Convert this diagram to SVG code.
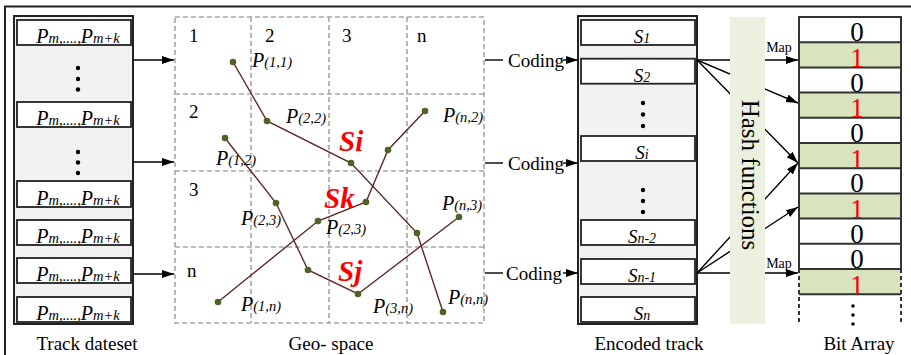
<svg xmlns="http://www.w3.org/2000/svg" width="911" height="355" viewBox="0 0 911 355">
<defs>
<marker id="arr" markerUnits="userSpaceOnUse" markerWidth="13" markerHeight="9" refX="12" refY="4" orient="auto">
<path d="M0,0 L12,4 L0,8 z" fill="#000"/>
</marker>
<style>
text{font-family:"Liberation Serif","Times New Roman",serif;fill:#000}
.cap{font-size:19px}
.it{font-style:italic}
.big{font-size:20px}
.sm{font-size:14.5px}
.box{fill:#f2f2f2;stroke:#222;stroke-width:2}
.row{fill:#fff;stroke:#222;stroke-width:1.8}
.grid{fill:none;stroke:#a6a6a6;stroke-width:1.6;stroke-dasharray:5,3}
.trk{fill:none;stroke:#5e2a24;stroke-width:1.4}
.pt{fill:#4f6228}
.red{fill:#ff0000;font-weight:bold;font-style:italic;font-size:29px}
.con{fill:none;stroke:#000;stroke-width:1.4}
.dig{font-size:27px;text-anchor:middle}
.one{fill:#ff0000}
.cell0{fill:#fff}
.cell1{fill:#d7e4bd}
.bl{stroke:#333;stroke-width:2;fill:none}
.dot{fill:#000}
.map{font-size:14px;text-anchor:middle}
</style>
</defs>
<path d="M5,355 V6.5 H911" fill="none" stroke="#222" stroke-width="2"/>

<g id="track-dataset">
<rect class="box" x="14" y="16" width="119" height="308"/>
<g class="rows">
<rect class="row" x="17" y="20" width="114" height="25"/>
<rect class="row" x="17" y="102" width="114" height="25"/>
<rect class="row" x="17" y="181" width="114" height="26"/>
<rect class="row" x="17" y="220" width="114" height="25"/>
<rect class="row" x="17" y="258" width="114" height="25"/>
<rect class="row" x="17" y="297" width="114" height="25"/>
</g>
<g class="it" text-anchor="middle">
<text x="78" y="43"><tspan class="big">P</tspan><tspan class="sm">m,....,</tspan><tspan class="big">P</tspan><tspan class="sm">m+k</tspan></text>
<text x="78" y="125"><tspan class="big">P</tspan><tspan class="sm">m,....,</tspan><tspan class="big">P</tspan><tspan class="sm">m+k</tspan></text>
<text x="78" y="205"><tspan class="big">P</tspan><tspan class="sm">m,....,</tspan><tspan class="big">P</tspan><tspan class="sm">m+k</tspan></text>
<text x="78" y="243"><tspan class="big">P</tspan><tspan class="sm">m,....,</tspan><tspan class="big">P</tspan><tspan class="sm">m+k</tspan></text>
<text x="78" y="281"><tspan class="big">P</tspan><tspan class="sm">m,....,</tspan><tspan class="big">P</tspan><tspan class="sm">m+k</tspan></text>
<text x="78" y="320"><tspan class="big">P</tspan><tspan class="sm">m,....,</tspan><tspan class="big">P</tspan><tspan class="sm">m+k</tspan></text>
</g>
<circle class="dot" cx="78" cy="68" r="2.2"/><circle class="dot" cx="78" cy="79" r="2.2"/><circle class="dot" cx="78" cy="89.5" r="2.2"/>
<circle class="dot" cx="78" cy="152" r="2.2"/><circle class="dot" cx="78" cy="162.5" r="2.2"/><circle class="dot" cx="78" cy="173" r="2.2"/>
<text class="cap" x="87" y="350" text-anchor="middle">Track dateset</text>
</g>

<g id="geo-space">
<rect class="grid" x="175" y="17" width="309" height="306"/>
<path class="grid" d="M251,17 V323 M329,17 V323 M407,17 V323 M175,94 H484 M175,171 H484 M175,247 H484"/>
<g class="cap">
<text x="189" y="42">1</text><text x="265" y="42">2</text><text x="342" y="42">3</text><text x="417" y="42">n</text>
<text x="189" y="118">2</text><text x="189" y="196">3</text><text x="187" y="277">n</text>
</g>
<polyline class="trk" points="233,62 267,121 351,163 417,233 443,312"/>
<polyline class="trk" points="425,111 388,150 366,202 318,221 218,302"/>
<polyline class="trk" points="225,138 276,203 308,270 358,294 459,217"/>
<g>
<circle class="pt" cx="233" cy="62" r="3.3"/><circle class="pt" cx="267" cy="121" r="3.3"/><circle class="pt" cx="351" cy="163" r="3.3"/><circle class="pt" cx="417" cy="233" r="3.3"/><circle class="pt" cx="443" cy="312" r="3.3"/>
<circle class="pt" cx="425" cy="111" r="3.3"/><circle class="pt" cx="388" cy="150" r="3.3"/><circle class="pt" cx="366" cy="202" r="3.3"/><circle class="pt" cx="318" cy="221" r="3.3"/><circle class="pt" cx="218" cy="302" r="3.3"/>
<circle class="pt" cx="225" cy="138" r="3.3"/><circle class="pt" cx="276" cy="203" r="3.3"/><circle class="pt" cx="308" cy="270" r="3.3"/><circle class="pt" cx="358" cy="294" r="3.3"/><circle class="pt" cx="459" cy="217" r="3.3"/>
</g>
<g class="it">
<text x="252" y="67"><tspan class="big">P</tspan><tspan class="sm">(1,1)</tspan></text>
<text x="286" y="123"><tspan class="big">P</tspan><tspan class="sm">(2,2)</tspan></text>
<text x="443" y="122"><tspan class="big">P</tspan><tspan class="sm">(n,2)</tspan></text>
<text x="216" y="165"><tspan class="big">P</tspan><tspan class="sm">(1,2)</tspan></text>
<text x="241" y="225"><tspan class="big">P</tspan><tspan class="sm">(2,3)</tspan></text>
<text x="326" y="234"><tspan class="big">P</tspan><tspan class="sm">(2,3)</tspan></text>
<text x="442" y="210"><tspan class="big">P</tspan><tspan class="sm">(n,3)</tspan></text>
<text x="241" y="311"><tspan class="big">P</tspan><tspan class="sm">(1,n)</tspan></text>
<text x="373" y="313"><tspan class="big">P</tspan><tspan class="sm">(3,n)</tspan></text>
<text x="448" y="304"><tspan class="big">P</tspan><tspan class="sm">(n,n)</tspan></text>
</g>
<text class="red" x="339" y="151">Si</text>
<text class="red" x="324" y="208">Sk</text>
<text class="red" x="338" y="281">Sj</text>
<text class="cap" x="331" y="350" text-anchor="middle">Geo- space</text>
</g>

<g id="encoded-track">
<rect class="box" x="578" y="16" width="119" height="308"/>
<rect class="row" x="581" y="20" width="114" height="25"/>
<rect class="row" x="581" y="58.7" width="114" height="25"/>
<rect class="row" x="581" y="136" width="114" height="25"/>
<rect class="row" x="581" y="220" width="114" height="25"/>
<rect class="row" x="581" y="259" width="114" height="25"/>
<rect class="row" x="581" y="297" width="114" height="25"/>
<circle class="dot" cx="643" cy="103" r="2.2"/><circle class="dot" cx="643" cy="114.5" r="2.2"/><circle class="dot" cx="643" cy="126" r="2.2"/>
<circle class="dot" cx="643" cy="190" r="2.2"/><circle class="dot" cx="643" cy="201" r="2.2"/><circle class="dot" cx="643" cy="212" r="2.2"/>
<g class="it" text-anchor="middle">
<text x="642" y="43"><tspan font-size="19">S</tspan><tspan font-size="14">1</tspan></text>
<text x="642" y="81.5"><tspan font-size="19">S</tspan><tspan font-size="14">2</tspan></text>
<text x="642" y="159"><tspan font-size="19">S</tspan><tspan font-size="14">i</tspan></text>
<text x="642" y="243"><tspan font-size="19">S</tspan><tspan font-size="14">n-2</tspan></text>
<text x="642" y="281.5"><tspan font-size="19">S</tspan><tspan font-size="14">n-1</tspan></text>
<text x="642" y="320"><tspan font-size="19">S</tspan><tspan font-size="14">n</tspan></text>
</g>
<text class="cap" x="649" y="350" text-anchor="middle">Encoded track</text>
</g>

<g id="connectors">
<line class="con" x1="133" y1="60" x2="174" y2="60" marker-end="url(#arr)"/>
<line class="con" x1="133" y1="162" x2="174" y2="162" marker-end="url(#arr)"/>
<line class="con" x1="133" y1="274" x2="174" y2="274" marker-end="url(#arr)"/>
<line class="con" x1="485" y1="60" x2="503" y2="60"/>
<line class="con" x1="485" y1="163" x2="503" y2="163"/>
<line class="con" x1="485" y1="273" x2="503" y2="273"/>
<line class="con" x1="563" y1="60" x2="578" y2="60" marker-end="url(#arr)"/>
<line class="con" x1="563" y1="163" x2="578" y2="163" marker-end="url(#arr)"/>
<line class="con" x1="563" y1="273" x2="578" y2="273" marker-end="url(#arr)"/>
<line class="con" x1="697" y1="60" x2="798" y2="60" marker-end="url(#arr)"/>
<line class="con" x1="697" y1="60" x2="798" y2="103" marker-end="url(#arr)"/>
<line class="con" x1="697" y1="60" x2="798" y2="163" marker-end="url(#arr)"/>
<line class="con" x1="697" y1="273" x2="798" y2="273" marker-end="url(#arr)"/>
<line class="con" x1="697" y1="273" x2="798" y2="207" marker-end="url(#arr)"/>
<line class="con" x1="697" y1="273" x2="798" y2="163" marker-end="url(#arr)"/>
<text class="cap" x="508" y="67">Coding</text>
<text class="cap" x="508" y="170">Coding</text>
<text class="cap" x="506" y="280">Coding</text>
<text class="map" x="779" y="52">Map</text>
<text class="map" x="779" y="268">Map</text>
</g>

<g id="hash-functions">
<rect x="730" y="17" width="35" height="307" fill="#ebf1de"/>
<text transform="translate(742,175) rotate(90)" font-size="25" text-anchor="middle">Hash functions</text>
</g>

<g id="bit-array">
<rect class="cell0" x="799" y="17" width="102" height="25.2"/>
<rect class="cell1" x="799" y="42.2" width="102" height="25.2"/>
<rect class="cell0" x="799" y="67.4" width="102" height="25.2"/>
<rect class="cell1" x="799" y="92.6" width="102" height="25.2"/>
<rect class="cell0" x="799" y="117.8" width="102" height="25.2"/>
<rect class="cell1" x="799" y="143" width="102" height="25.2"/>
<rect class="cell0" x="799" y="168.2" width="102" height="25.2"/>
<rect class="cell1" x="799" y="193.4" width="102" height="25.2"/>
<rect class="cell0" x="799" y="218.6" width="102" height="25.2"/>
<rect class="cell0" x="799" y="243.8" width="102" height="25.2"/>
<rect class="cell1" x="799" y="269" width="102" height="25.2"/>
<path class="bl" d="M799,269 V17 H901 V269 M799,42.2 H901 M799,67.4 H901 M799,92.6 H901 M799,117.8 H901 M799,143 H901 M799,168.2 H901 M799,193.4 H901 M799,218.6 H901 M799,243.8 H901 M799,269 H901 M799,294.2 H901"/>
<path class="bl" d="M799,269 V323 M901,269 V323" stroke-dasharray="4,3"/>
<text class="dig" x="857" y="41">0</text>
<text class="dig one" x="857" y="66.5">1</text>
<text class="dig" x="857" y="91.5">0</text>
<text class="dig one" x="857" y="117">1</text>
<text class="dig" x="857" y="142">0</text>
<text class="dig one" x="857" y="167.5">1</text>
<text class="dig" x="857" y="192">0</text>
<text class="dig one" x="857" y="218">1</text>
<text class="dig" x="857" y="242.5">0</text>
<text class="dig" x="857" y="268">0</text>
<text class="dig one" x="857" y="293.5">1</text>
<circle class="dot" cx="853" cy="306" r="1.8"/><circle class="dot" cx="853" cy="315" r="1.8"/><circle class="dot" cx="853" cy="324" r="1.8"/>
<text class="cap" x="859" y="350" text-anchor="middle">Bit Array</text>
</g>
</svg>
